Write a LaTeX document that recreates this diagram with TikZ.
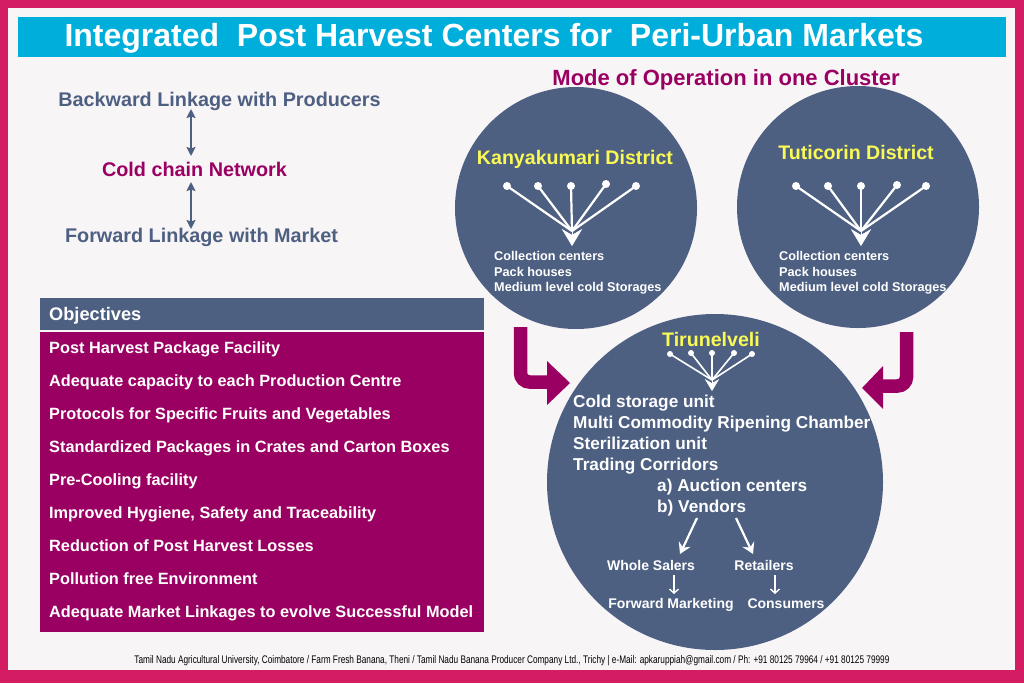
\documentclass[tikz,border=0pt]{standalone}
\usepackage{fontspec}
\setmainfont{Liberation Sans}
\usetikzlibrary{arrows.meta}
\definecolor{pinkb}{HTML}{D41C62}
\definecolor{bgc}{HTML}{F8F5F7}
\definecolor{cyanb}{HTML}{00AEDB}
\definecolor{slate}{HTML}{4E6082}
\definecolor{purp}{HTML}{9A0062}
\definecolor{yel}{HTML}{FAFA55}
\newcommand\myfs[1]{\fontsize{#1}{#1}\selectfont\bfseries}
\begin{document}
\begin{tikzpicture}[x=1pt,y=-1pt,
  lbl/.style={inner sep=0pt, anchor=base},
  lblw/.style={inner sep=0pt, anchor=base west},
  bigc/.style={circle, fill=slate, inner sep=0pt},
  dotw/.style={circle, fill=white, inner sep=0pt, minimum size=#1},
  dotw/.default=8pt,
  fan/.style={white, line width=2.2pt},
  fanhead/.style={white, -{Stealth[length=#1, width=1.2*#1, inset=0.35*#1]}},
  bentarrow/.style={purp, line width=13.5pt, rounded corners=9pt},
  warr/.style={white, line width=2.2pt, -{Stealth[length=11pt, width=13pt, inset=4pt]}},
  darr/.style={white, line width=1.4pt, -{Straight Barb[length=4pt, width=9pt]}},
  larr/.style={slate, line width=2.6pt, {Stealth[length=9pt, width=9pt, inset=1.5pt]}-{Stealth[length=9pt, width=9pt, inset=1.5pt]}}
]
\useasboundingbox (0,0) rectangle (1024,683);
% frame
\fill[pinkb] (0,0) rectangle (1024,683);
\fill[bgc] (8,8) rectangle (1015,670);
\fill[cyanb] (18,17) rectangle (1006,57);
\node[lbl, white] (title) at (494,46) {\myfs{32}Integrated\ \ Post Harvest Centers for\ \ Peri-Urban Markets};

% left linkage
\node[lbl, slate] (back) at (219.5,106) {\myfs{19.8}Backward Linkage with Producers};
\node[lbl, purp] (cold) at (194.5,176) {\myfs{19.8}Cold chain Network};
\node[lbl, slate] (fwd) at (201.5,242) {\myfs{19.8}Forward Linkage with Market};
\coordinate (a1) at (191,109);
\coordinate (a2) at (191,156);
\coordinate (a3) at (191,182);
\coordinate (a4) at (191,229);
\draw[larr] (a1) -- (a2);
\draw[larr] (a3) -- (a4);

% objectives
\fill[slate] (40,298) rectangle (484,330);
\fill[purp] (40,332) rectangle (484,632);
\node[lblw, white] (obj) at (49,320.5) {\myfs{18.2}Objectives};
\foreach \t [count=\i from 0] in {Post Harvest Package Facility,
  Adequate capacity to each Production Centre,
  Protocols for Specific Fruits and Vegetables,
  Standardized Packages in Crates and Carton Boxes,
  Pre-Cooling facility,
  {Improved Hygiene, Safety and Traceability},
  Reduction of Post Harvest Losses,
  Pollution free Environment,
  Adequate Market Linkages to evolve Successful Model}
  \node[lblw, white] (o\i) at (49,353+33*\i) {\myfs{16.3}\t};

% mode title
\node[lbl, purp] (mode) at (726,85) {\myfs{22}Mode of Operation in one Cluster};

% circles
\node[bigc, minimum size=242pt] (kan) at (576,208) {};
\node[bigc, minimum size=242pt] (tut) at (858,207) {};
\node[bigc, minimum size=336pt] (tir) at (715,482) {};

% Kanyakumari
\node[lbl, yel] (kant) at (575,164) {\myfs{19.6}Kanyakumari District};
\coordinate (kc) at (572,231);
\coordinate (kt) at (572,246);
\foreach \x/\y [count=\i] in {507/186, 538/186, 571/186, 606/184, 636/186}{
  \node[dotw] (kd\i) at (\x,\y) {};
  \draw[fan] (kd\i.center) -- (kc);
}
\draw[fanhead=17pt] (kc) -- (kt);
\node[lblw, white] (kl1) at (494,260.6) {\myfs{12.7}Collection centers};
\node[lblw, white] (kl2) at (494,276.4) {\myfs{12.7}Pack houses};
\node[lblw, white] (kl3) at (494,291.6) {\myfs{12.7}Medium level cold Storages};

% Tuticorin
\node[lbl, yel] (tutt) at (856,159) {\myfs{19.6}Tuticorin District};
\coordinate (tc) at (861,231);
\coordinate (tt) at (861,246);
\foreach \x/\y [count=\i] in {796/186, 828/186, 861/186, 897/185, 926/186}{
  \node[dotw] (td\i) at (\x,\y) {};
  \draw[fan] (td\i.center) -- (tc);
}
\draw[fanhead=17pt] (tc) -- (tt);
\node[lblw, white] (tl1) at (779,260.6) {\myfs{12.7}Collection centers};
\node[lblw, white] (tl2) at (779,276.4) {\myfs{12.7}Pack houses};
\node[lblw, white] (tl3) at (779,291.6) {\myfs{12.7}Medium level cold Storages};

% Tirunelveli
\node[lbl, yel] (tirt) at (711,346) {\myfs{19.6}Tirunelveli};
\coordinate (rc) at (712,380);
\coordinate (rt) at (712,391);
\foreach \x/\y [count=\i] in {670/354, 691/353, 712/353, 734/353, 752/354}{
  \node[dotw=6pt] (rd\i) at (\x,\y) {};
  \draw[white, line width=1.6pt] (rd\i.center) -- (rc);
}
\draw[fanhead=12pt] (rc) -- (rt);
\node[lblw, white] (r1) at (573,407) {\myfs{17.2}Cold storage unit};
\node[lblw, white] (r2) at (573,428) {\myfs{17.2}Multi Commodity Ripening Chamber};
\node[lblw, white] (r3) at (573,449) {\myfs{17.2}Sterilization unit};
\node[lblw, white] (r4) at (573,470) {\myfs{17.2}Trading Corridors};
\node[lblw, white] (r5) at (657,491) {\myfs{17.2}a) Auction centers};
\node[lblw, white] (r6) at (657,512) {\myfs{17.2}b) Vendors};
\node[lbl, white] (ws) at (651,570) {\myfs{14}Whole Salers};
\node[lbl, white] (re) at (764,570) {\myfs{14}Retailers};
\node[lbl, white] (fm) at (671,608) {\myfs{14}Forward Marketing};
\node[lbl, white] (co) at (786,608) {\myfs{14}Consumers};
\coordinate (v1) at (697,518);
\coordinate (v2) at (680,554);
\coordinate (v3) at (736,518);
\coordinate (v4) at (753,554);
\draw[warr] (v1) -- (v2);
\draw[warr] (v3) -- (v4);
\coordinate (d1) at (674,575);
\coordinate (d2) at (674,594);
\coordinate (d3) at (775,575);
\coordinate (d4) at (775,594);
\draw[darr] (d1) -- (d2);
\draw[darr] (d3) -- (d4);

% purple bent arrows
\coordinate (p1) at (520.5,327);
\coordinate (p2) at (520.5,382);
\coordinate (p3) at (548,382);
\draw[bentarrow] (p1) -- (p2) -- (p3);
\fill[purp] (547,361) -- (570,383) -- (547,405) -- cycle;
\coordinate (q1) at (906.5,332);
\coordinate (q2) at (906.5,386);
\coordinate (q3) at (882,386);
\draw[bentarrow] (q1) -- (q2) -- (q3);
\fill[purp] (883,366) -- (862,388) -- (883,409) -- cycle;

% footer
\node[lbl, black] (foot) at (512,663.5) {\resizebox{755pt}{\height}{\fontsize{11}{12}\selectfont Tamil Nadu Agricultural University, Coimbatore / Farm Fresh Banana, Theni / Tamil Nadu Banana Producer Company Ltd., Trichy | e-Mail: apkaruppiah@gmail.com / Ph: +91 80125 79964 / +91 80125 79999}};
\end{tikzpicture}
\end{document}
